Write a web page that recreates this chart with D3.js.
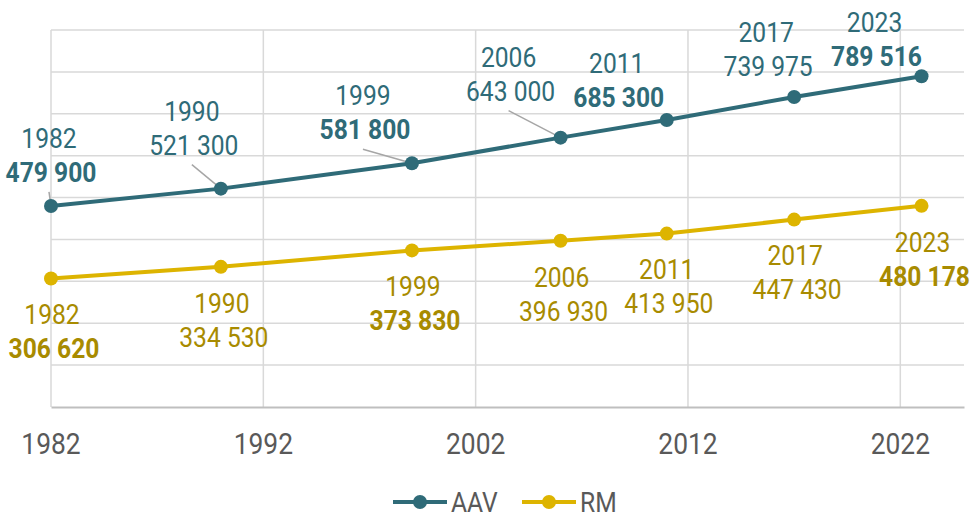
<!DOCTYPE html>
<html>
<head>
<meta charset="utf-8">
<script src="https://cdn.jsdelivr.net/npm/d3@7"></script>
<style>
  body { margin: 0; background: #fff; }
  text { font-family: Roboto, "Liberation Sans", sans-serif; }
</style>
</head>
<body>
<div id="chart"></div>
<script>
const years = [1982, 1990, 1999, 2006, 2011, 2017, 2023];
const aav = [479900, 521300, 581800, 643000, 685300, 739975, 789516];
const rm = [306620, 334530, 373830, 396930, 413950, 447430, 480178];
const aavBold = [true, false, true, false, true, false, true];
const rmBold = [true, false, true, false, false, false, true];
const xTicks = [1982, 1992, 2002, 2012, 2022];
const seriesNames = ['AAV', 'RM'];

// label placement (pixels, relative to the point): dx of block centre, dy of year baseline
const aavLabelPos = [[-2, -58], [-29, -68], [-49, -58], [-52, -71], [-50, -47], [-28, -55], [-47, -44]];
const aavLeader = [true, true, true, true, false, false, false];
const rmLabelPos = [[1, 45], [1, 46], [1, 46], [1, 46], [0, 45], [1, 45], [1, 46]];

const width = 977;
const height = 518;
const margin = { top: 30, right: 13, bottom: 111, left: 51 };
const colAAV = '#2F6B78';
const colRM = '#DDB400';
const colRMText = '#A88B00';
const squeeze = 0.88;

const svg = d3.select('#chart')
  .append('svg')
  .attr('width', width)
  .attr('height', height);

const x = d3.scaleLinear()
  .domain([1982, 2025])
  .range([margin.left, width - margin.right]);

const y = d3.scaleLinear()
  .domain([0, 900000])
  .range([height - margin.bottom, margin.top]);

// grid
svg.append('g')
  .selectAll('line')
  .data(d3.range(100000, 900001, 100000))
  .join('line')
    .attr('x1', x(1982)).attr('x2', x(2025))
    .attr('y1', d => y(d)).attr('y2', d => y(d))
    .attr('stroke', '#D9D9D9').attr('stroke-width', 1.5);

svg.append('g')
  .selectAll('line')
  .data(xTicks)
  .join('line')
    .attr('x1', d => x(d)).attr('x2', d => x(d))
    .attr('y1', y(0)).attr('y2', y(900000))
    .attr('stroke', '#D9D9D9').attr('stroke-width', 1.5);

// x axis
const xAxis = g => g
  .attr('transform', `translate(0,${y(0)})`)
  .call(d3.axisBottom(x).tickValues(xTicks).tickFormat(d3.format('d')).tickSize(0).tickPadding(0))
  .call(g => g.select('.domain').attr('stroke', '#BFBFBF').attr('stroke-width', 2))
  .call(g => g.selectAll('text').remove());
svg.append('g').call(xAxis);

svg.append('g')
  .selectAll('text')
  .data(xTicks)
  .join('text')
    .attr('transform', d => `translate(${x(d)},454) scale(${squeeze},1)`)
    .attr('text-anchor', 'middle')
    .attr('font-size', 30)
    .attr('fill', '#595959')
    .text(d => d);

const fmt = v => d3.format(',')(v).replace(/,/g, ' ');

function drawSeries(values, color, textColor, bold, labelPos, leader) {
  const pts = years.map((yr, i) => ({ yr, v: values[i], i }));

  // leader lines
  svg.append('g')
    .selectAll('line')
    .data(pts.filter(d => leader && leader[d.i]))
    .join('line')
      .attr('x1', d => x(d.yr) + labelPos[d.i][0])
      .attr('y1', d => y(d.v) + labelPos[d.i][1] + 34 + 10)
      .attr('x2', d => x(d.yr))
      .attr('y2', d => y(d.v))
      .attr('stroke', '#A6A6A6')
      .attr('stroke-width', 1.5);

  svg.append('path')
    .datum(pts)
    .attr('fill', 'none')
    .attr('stroke', color)
    .attr('stroke-width', 4)
    .attr('d', d3.line().x(d => x(d.yr)).y(d => y(d.v)));

  svg.append('g')
    .selectAll('circle')
    .data(pts)
    .join('circle')
      .attr('cx', d => x(d.yr))
      .attr('cy', d => y(d.v))
      .attr('r', 7)
      .attr('fill', color);

  const lab = svg.append('g')
    .selectAll('g')
    .data(pts)
    .join('g')
      .attr('transform', d => `translate(${x(d.yr) + labelPos[d.i][0]},${y(d.v) + labelPos[d.i][1]})`);

  lab.append('text')
    .attr('transform', `scale(${squeeze},1)`)
    .attr('text-anchor', 'middle')
    .attr('font-size', 28)
    .attr('fill', textColor)
    .text(d => d.yr);

  lab.append('text')
    .attr('transform', `translate(2,34) scale(${squeeze},1)`)
    .attr('text-anchor', 'middle')
    .attr('font-size', 28)
    .attr('font-weight', d => bold[d.i] ? 'bold' : 'normal')
    .attr('fill', textColor)
    .text(d => fmt(d.v));
}

drawSeries(aav, colAAV, colAAV, aavBold, aavLabelPos, aavLeader);
drawSeries(rm, colRM, colRMText, rmBold, rmLabelPos, null);

// legend
const legend = svg.append('g')
  .selectAll('g')
  .data(seriesNames)
  .join('g')
    .attr('transform', (d, i) => `translate(${i === 0 ? 393 : 522},502)`);

legend.append('line')
  .attr('x1', 0).attr('x2', 54)
  .attr('stroke', (d, i) => i === 0 ? colAAV : colRM)
  .attr('stroke-width', 4);

legend.append('circle')
  .attr('cx', 27).attr('r', 7)
  .attr('fill', (d, i) => i === 0 ? colAAV : colRM);

legend.append('text')
  .attr('transform', `translate(58,9.5) scale(${squeeze},1)`)
  .attr('font-size', 28)
  .attr('fill', '#595959')
  .text(d => d);
</script>
</body>
</html>
